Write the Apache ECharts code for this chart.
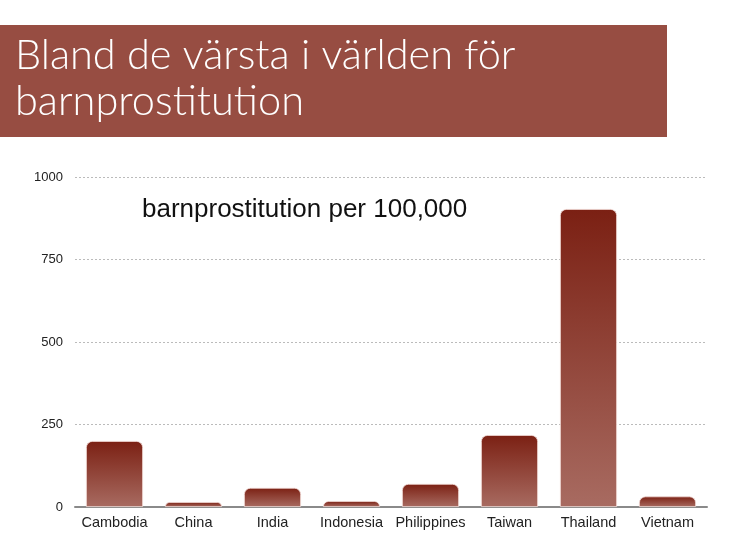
<!DOCTYPE html>
<html>
<head>
<meta charset="utf-8">
<script src="https://cdn.jsdelivr.net/npm/echarts@6/dist/echarts.min.js"></script>
<style>
html, body { margin:0; padding:0; background:#fff; }
#chart_panel { width:740px; height:555px; }
</style>
</head>
<body>
<div id="chart_panel"></div>
<script>
// data
var countries = ['Cambodia', 'China', 'India', 'Indonesia', 'Philippines', 'Taiwan', 'Thailand', 'Vietnam'];
var rates = [200, 15, 58, 18, 70, 218, 903, 32];
var yTicks = [0, 250, 500, 750, 1000];

var myChart = echarts.init(document.getElementById('chart_panel'));

var barColor = new echarts.graphic.LinearGradient(0, 0, 0, 1, [
	{offset: 0, color: '#7b2013'},
	{offset: 1, color: '#a86b61'}
]);

var option = {
	animation: false,
	textStyle: {fontFamily: 'Liberation Sans, Arial, sans-serif'},
	graphic: [
		{
			type: 'rect',
			left: 0, top: 25,
			shape: {width: 667, height: 112},
			style: {fill: '#974d42'}
		},
		{
			type: 'text',
			left: 15, top: 33,
			style: {
				text: 'Bland de värsta i världen för\nbarnprostitution',
				fill: '#fff',
				font: '300 41.5px Lato, "Open Sans", sans-serif',
				lineHeight: 46
			}
		},
		{
			type: 'text',
			left: 142, top: 197,
			style: {
				text: 'barnprostitution per 100,000',
				fill: '#111',
				font: '26px "Liberation Sans", Arial, sans-serif'
			}
		}
	],
	grid: {left: 75, right: 33, top: 177, bottom: 48},
	xAxis: {
		type: 'category',
		data: countries,
		axisTick: {show: false},
		axisLine: {lineStyle: {color: '#8a8a8a', width: 2}},
		axisLabel: {color: '#222', fontSize: 14.5, margin: 8, interval: 0}
	},
	yAxis: {
		type: 'value',
		min: yTicks[0],
		max: yTicks[yTicks.length - 1],
		interval: yTicks[1] - yTicks[0],
		axisLine: {show: false},
		axisTick: {show: false},
		axisLabel: {
			color: '#222', fontSize: 13, margin: 12,
			formatter: function (v) { return String(v); }
		},
		splitLine: {lineStyle: {color: '#bbb', type: [2, 2], width: 1}}
	},
	series: [{
		type: 'bar',
		data: rates,
		barWidth: 57,
		itemStyle: {
			color: barColor,
			borderRadius: [6, 6, 0, 0],
			borderColor: '#f2dcd8',
			borderWidth: 0.8
		}
	}]
};

myChart.setOption(option);
window.onresize = myChart.resize;
</script>
</body>
</html>
